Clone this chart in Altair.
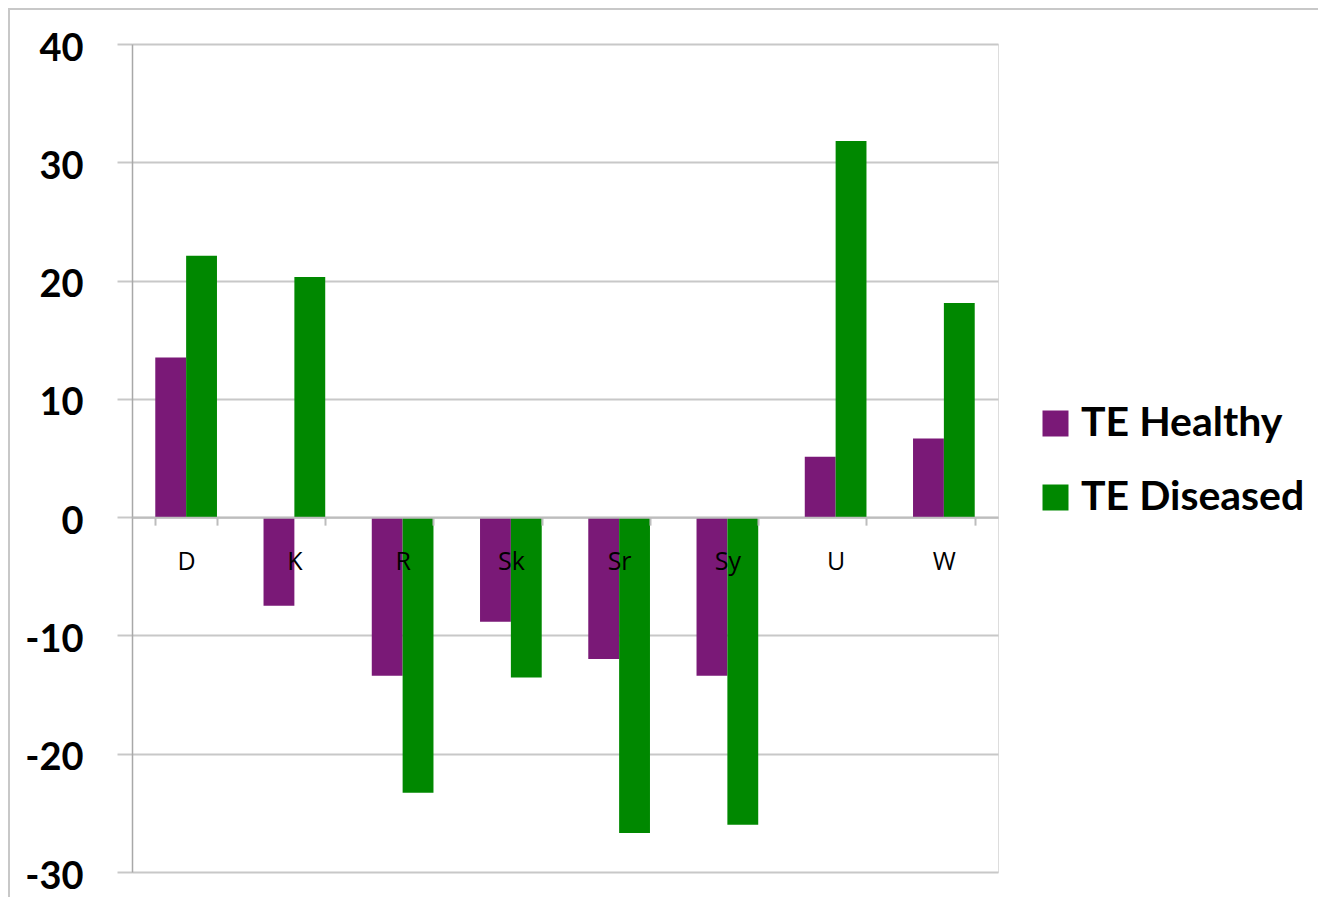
import altair as alt
import pandas as pd

categories = ["D", "K", "R", "Sk", "Sr", "Sy", "U", "W"]
te_healthy = [13.5, -7.5, -13.4, -8.85, -12.0, -13.4, 5.1, 6.65]
te_diseased = [22.1, 20.3, -23.3, -13.55, -26.7, -26.0, 31.8, 18.1]
series = ["TE Healthy", "TE Diseased"]
colors = ["#7a1977", "#008800"]
y_ticks = [-30, -20, -10, 0, 10, 20, 30, 40]

rows = []
for i, c in enumerate(categories):
    rows.append({"cat": c, "series": series[0], "value": te_healthy[i]})
    rows.append({"cat": c, "series": series[1], "value": te_diseased[i]})
df = pd.DataFrame(rows)

W, H = 866, 828
zero_offset = -H * 30 / 70

bars = alt.Chart(df).mark_bar().encode(
    x=alt.X(
        "cat:N", sort=categories,
        scale=alt.Scale(paddingInner=0.43, paddingOuter=0.215),
        axis=alt.Axis(
            title=None, labelAngle=0, offset=zero_offset, tickBand="extent",
            tickSize=8, tickColor="#bdbdbd", tickWidth=2,
            domainColor="#bdbdbd", domainWidth=2, grid=False,
            labelFont="Open Sans", labelFontSize=25, labelColor="#000000",
            labelPadding=24, zindex=1,
        ),
    ),
    xOffset=alt.XOffset("series:N", sort=series,
                        scale=alt.Scale(paddingInner=0, paddingOuter=0)),
    y=alt.Y(
        "value:Q",
        scale=alt.Scale(domain=[-30, 40], nice=False, zero=False),
        axis=alt.Axis(
            title=None, values=y_ticks, grid=True, gridColor="#c8c8c8", gridWidth=2,
            tickSize=15, tickColor="#c8c8c8", tickWidth=2,
            domainColor="#a8a8a8", domainWidth=1.5,
            labelFont="Lato", labelFontWeight="bold", labelFontSize=38,
            labelColor="#000000", labelPadding=34, labelOffset=5,
            labelExpr="'' + datum.value",
        ),
    ),
    color=alt.Color(
        "series:N", sort=series,
        scale=alt.Scale(domain=series, range=colors),
        legend=alt.Legend(
            title=None, orient="none", legendX=903, legendY=359,
            symbolType="square", symbolSize=676, symbolStrokeWidth=0,
            labelFont="Lato", labelFontWeight="bold", labelFontSize=41,
            labelColor="#000000", labelOffset=5, rowPadding=32, padding=0,
            labelLimit=0,
        ),
    ),
)

frame_df = pd.DataFrame({"k": [0]})
top_line = alt.Chart(frame_df).mark_rule(color="#c8c8c8", strokeWidth=2).encode(
    x=alt.value(-124), x2=alt.value(1200), y=alt.value(-35)
)
left_line = alt.Chart(frame_df).mark_rule(color="#c8c8c8", strokeWidth=2).encode(
    x=alt.value(-123), y=alt.value(-36), y2=alt.value(H + 40)
)

chart = alt.layer(bars, top_line, left_line).properties(
    width=W, height=H,
    autosize=alt.AutoSizeParams(type="none"),
    padding={"left": 124, "top": 36, "right": 320, "bottom": 25},
).configure_view(stroke=None).configure(background="#ffffff")

chart.save("out.html", embed_options={"renderer": "svg", "actions": False})
